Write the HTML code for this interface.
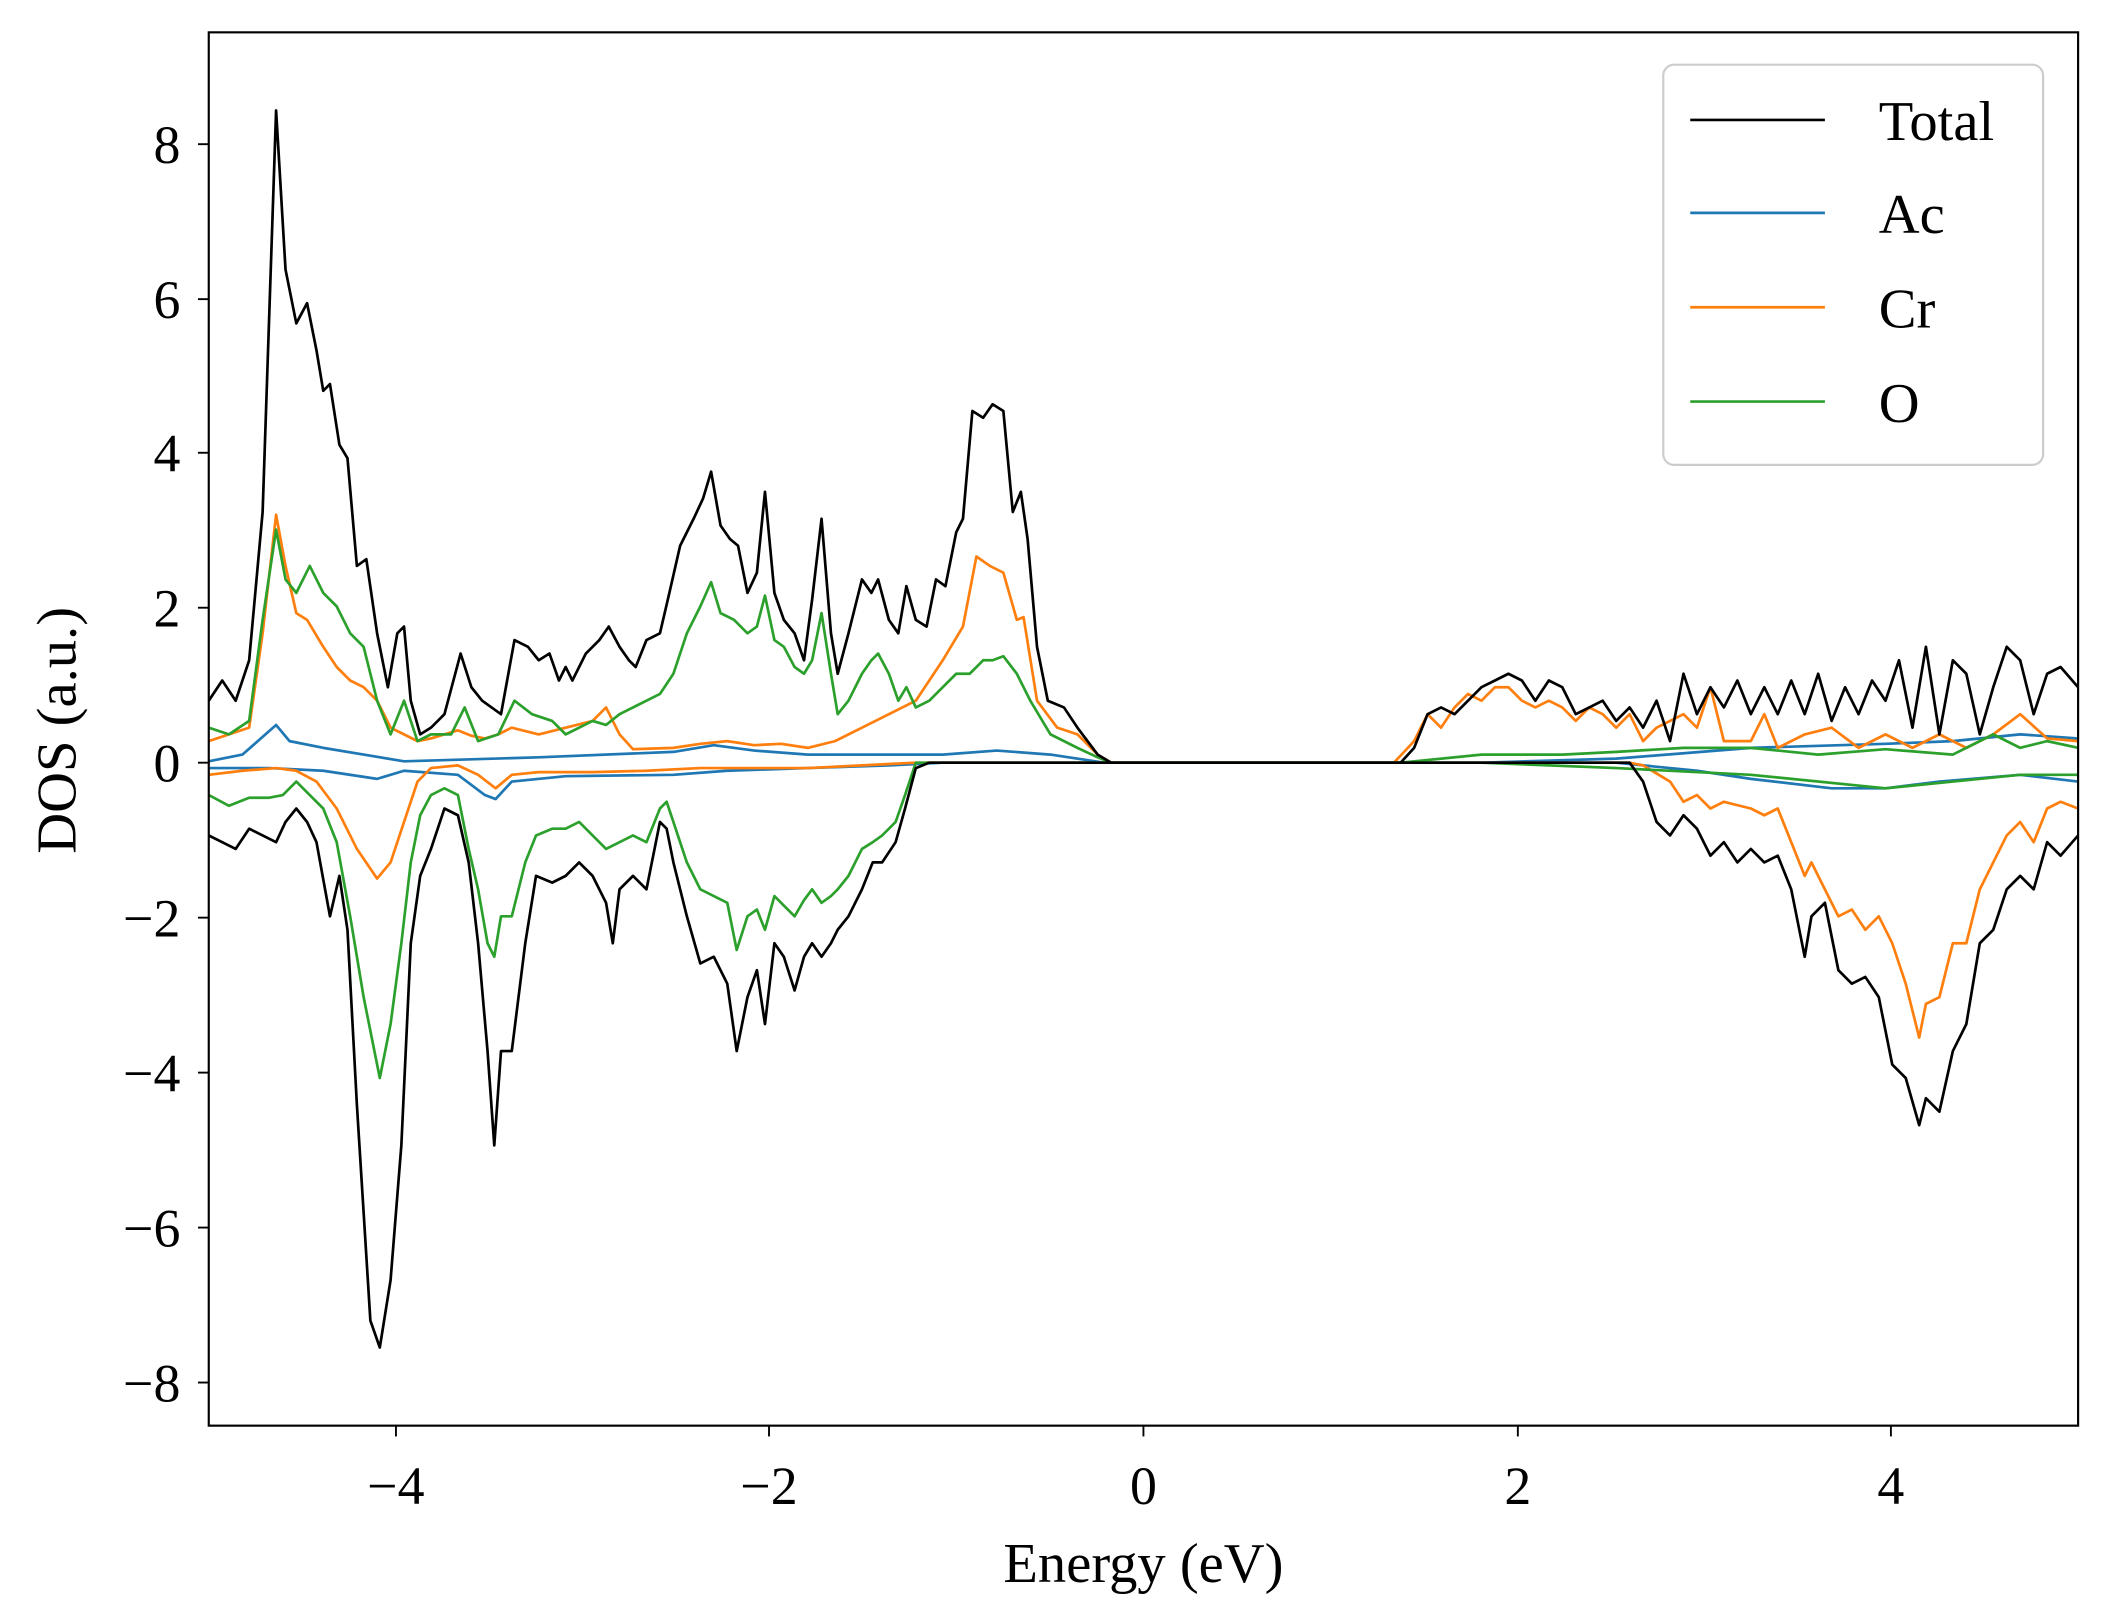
<!DOCTYPE html>
<html><head><meta charset="utf-8"><style>html,body{margin:0;padding:0;background:#fff}svg{display:block}</style></head>
<body>
<svg width="2101" height="1617" viewBox="0 0 1560 1200" preserveAspectRatio="none" xmlns="http://www.w3.org/2000/svg" font-family="Liberation Serif, serif">
<defs><clipPath id="c"><rect x="155" y="24" width="1388" height="1034"/></clipPath></defs>
<g clip-path="url(#c)" fill="none" stroke-width="2" stroke-linejoin="round">
<polyline stroke="#1f77b4" points="155,565 180,560 205,538 215,550 240,555 270,560 300,565 400,562 500,558 530,553 560,557 600,560 700,560 740,557 780,560 820,566 1100,566 1200,563 1300,555 1400,552 1450,550 1500,545 1543,548"/>
<polyline stroke="#1f77b4" points="155,570 200,570 240,572 280,578 300,572 340,575 360,590 368,593 380,580 420,576 500,575 540,572 600,570 660,568 700,566 1200,566 1260,572 1300,578 1360,585 1400,585 1440,580 1500,575 1543,580"/>
<polyline stroke="#ff7f0e" points="155,550 170,545 185,540 195,470 205,382 212,420 220,455 228,460 240,480 250,495 260,505 270,510 280,520 290,540 300,545 310,550 320,548 340,542 350,546 360,548 370,545 380,540 400,545 420,540 440,535 450,525 460,545 470,556 500,555 520,552 540,550 560,553 580,552 600,555 620,550 640,540 660,530 680,520 700,490 715,465 725,413 735,420 745,425 755,460 760,458 770,520 785,540 800,545 815,560 825,566 1035,566 1050,550 1060,530 1070,540 1080,525 1090,515 1100,520 1110,510 1120,510 1130,520 1140,525 1150,520 1160,525 1170,535 1180,525 1190,530 1200,540 1210,530 1220,550 1230,540 1250,530 1260,540 1270,510 1280,550 1300,550 1310,530 1320,555 1340,545 1360,540 1380,555 1400,545 1420,555 1440,545 1460,555 1480,545 1500,530 1520,548 1543,550"/>
<polyline stroke="#ff7f0e" points="155,575 180,572 205,570 220,572 235,580 250,600 265,630 280,652 290,640 300,610 310,580 320,570 340,568 355,575 368,585 380,575 400,573 440,573 480,572 520,570 560,570 600,570 640,568 680,566 1210,566 1220,568 1240,580 1250,595 1260,590 1270,600 1280,595 1300,600 1310,605 1320,600 1330,625 1340,650 1345,640 1355,660 1365,680 1375,675 1385,690 1395,680 1405,700 1415,730 1425,770 1430,745 1440,740 1450,700 1460,700 1470,660 1480,640 1490,620 1500,610 1510,625 1520,600 1530,595 1543,600"/>
<polyline stroke="#2ca02c" points="155,540 170,545 185,535 195,460 205,393 212,430 220,440 230,420 240,440 250,450 260,470 270,480 280,520 290,545 300,520 310,550 320,545 335,545 345,525 355,550 370,545 382,520 395,530 410,535 420,545 430,540 440,535 450,538 460,530 470,525 480,520 490,515 500,500 510,470 520,450 528,432 535,455 545,460 555,470 562,465 568,442 575,475 582,480 590,495 597,500 603,490 610,455 617,500 622,530 630,520 640,500 647,490 652,485 660,500 667,520 673,510 680,525 690,520 700,510 710,500 720,500 730,490 737,490 745,487 755,500 765,520 780,545 800,555 815,562 825,566 1040,566 1100,560 1160,560 1200,558 1250,555 1300,555 1350,560 1400,556 1450,560 1480,545 1500,555 1520,550 1543,555"/>
<polyline stroke="#2ca02c" points="155,590 170,598 185,592 200,592 210,590 220,580 230,590 240,600 250,625 260,680 270,740 282,800 290,760 298,700 305,640 312,605 320,590 330,585 340,590 348,630 355,660 362,700 367,710 372,680 380,680 390,640 398,620 410,615 420,615 430,610 440,620 450,630 460,625 470,620 480,625 490,600 495,595 500,610 510,640 520,660 530,665 540,670 547,705 555,680 562,675 568,690 575,665 582,672 590,680 597,668 603,660 610,670 617,665 622,660 630,650 640,630 648,625 655,620 665,610 672,590 680,566 1100,566 1200,570 1300,575 1400,585 1450,580 1500,575 1543,575"/>
<polyline stroke="#000" points="155,520 165,505 175,520 185,490 195,380 205,82 212,200 220,240 228,225 235,260 240,290 245,285 252,330 258,340 265,420 272,415 280,470 288,510 295,470 300,465 305,520 312,545 320,540 330,530 342,485 350,510 358,520 365,525 372,530 382,475 392,480 400,490 408,485 415,505 420,495 425,505 435,485 445,475 452,465 460,480 467,490 472,495 480,475 490,470 497,440 505,405 515,385 522,370 528,350 535,390 542,400 548,405 555,440 562,425 568,365 575,440 582,460 590,470 597,490 603,445 610,385 617,470 622,500 630,470 640,430 647,440 652,430 660,460 667,470 673,435 680,460 688,465 695,430 702,435 710,395 715,385 722,305 730,310 737,300 745,305 752,380 758,365 763,400 770,480 778,520 790,525 800,540 815,560 825,566 1040,566 1050,555 1060,530 1070,525 1080,530 1090,520 1100,510 1110,505 1120,500 1130,505 1140,520 1150,505 1160,510 1170,530 1180,525 1190,520 1200,535 1210,525 1220,540 1230,520 1240,550 1250,500 1260,530 1270,510 1280,525 1290,505 1300,530 1310,510 1320,530 1330,505 1340,530 1350,500 1360,535 1370,510 1380,530 1390,505 1400,520 1410,490 1420,540 1430,480 1440,545 1450,490 1460,500 1470,545 1480,510 1490,480 1500,490 1510,530 1520,500 1530,495 1543,510"/>
<polyline stroke="#000" points="155,620 165,625 175,630 185,615 195,620 205,625 212,610 220,600 228,610 235,625 245,680 252,650 258,690 265,820 275,980 282,1000 290,950 298,850 305,700 312,650 320,630 330,600 340,605 348,640 355,700 362,780 367,850 372,780 380,780 390,700 398,650 410,655 420,650 430,640 440,650 450,670 455,700 460,660 470,650 480,660 490,610 495,615 500,640 510,680 520,715 530,710 540,730 547,780 555,740 562,720 568,760 575,700 582,710 590,735 597,710 603,700 610,710 617,700 622,690 630,680 640,660 648,640 655,640 665,625 672,600 680,570 690,566 1210,566 1220,580 1230,610 1240,620 1250,605 1260,615 1270,635 1280,625 1290,640 1300,630 1310,640 1320,635 1330,660 1340,710 1345,680 1355,670 1365,720 1375,730 1385,725 1395,740 1405,790 1415,800 1425,835 1430,815 1440,825 1450,780 1460,760 1470,700 1480,690 1490,660 1500,650 1510,660 1520,625 1530,635 1543,620"/>
</g>
<rect x="155" y="24" width="1388" height="1034" fill="none" stroke="#000" stroke-width="1.6"/>
<g stroke="#000" stroke-width="1.4">
<line x1="294" y1="1058" x2="294" y2="1066"/><line x1="571" y1="1058" x2="571" y2="1066"/><line x1="849" y1="1058" x2="849" y2="1066"/><line x1="1127" y1="1058" x2="1127" y2="1066"/><line x1="1404" y1="1058" x2="1404" y2="1066"/>
<line x1="147" y1="107" x2="155" y2="107"/><line x1="147" y1="222" x2="155" y2="222"/><line x1="147" y1="336" x2="155" y2="336"/><line x1="147" y1="451" x2="155" y2="451"/><line x1="147" y1="566" x2="155" y2="566"/><line x1="147" y1="681" x2="155" y2="681"/><line x1="147" y1="796" x2="155" y2="796"/><line x1="147" y1="911" x2="155" y2="911"/><line x1="147" y1="1026" x2="155" y2="1026"/>
</g>
<g font-size="40" text-anchor="end" fill="#000">
<text x="134" y="121">8</text><text x="134" y="236">6</text><text x="134" y="350">4</text><text x="134" y="465">2</text><text x="134" y="580">0</text><text x="134" y="695">−2</text><text x="134" y="810">−4</text><text x="134" y="925">−6</text><text x="134" y="1040">−8</text>
</g>
<g font-size="40" text-anchor="middle" fill="#000">
<text x="294" y="1116">−4</text><text x="571" y="1116">−2</text><text x="849" y="1116">0</text><text x="1127" y="1116">2</text><text x="1404" y="1116">4</text>
<text x="849" y="1174" font-size="42">Energy (eV)</text>
<text transform="translate(56,542) rotate(-90)" font-size="42">DOS (a.u.)</text>
</g>
<rect x="1235" y="48" width="282" height="297" rx="8" fill="#fff" stroke="#ccc" stroke-width="1.6"/>
<g stroke-width="2">
<line x1="1255" y1="89" x2="1355" y2="89" stroke="#000"/><line x1="1255" y1="158" x2="1355" y2="158" stroke="#1f77b4"/><line x1="1255" y1="228" x2="1355" y2="228" stroke="#ff7f0e"/><line x1="1255" y1="298" x2="1355" y2="298" stroke="#2ca02c"/>
</g>
<g font-size="42" fill="#000">
<text x="1395" y="104">Total</text><text x="1395" y="173">Ac</text><text x="1395" y="243">Cr</text><text x="1395" y="313">O</text>
</g>
</svg>
</body></html>
